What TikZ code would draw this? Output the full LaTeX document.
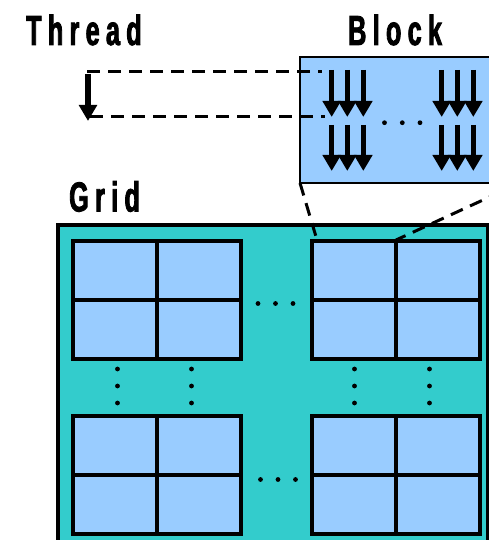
\documentclass[tikz,border=0pt]{standalone}
\usepackage{fontspec}
\newfontfamily\labfont[FakeStretch=0.6,LetterSpace=15,FakeBold=2]{Liberation Sans Bold}
\usetikzlibrary{arrows.meta}
\definecolor{blk}{HTML}{99CCFF}
\definecolor{grd}{HTML}{33CCCC}
\tikzset{
  lab/.style={font=\labfont\fontsize{42}{44}\selectfont, inner sep=0pt, anchor=base west},
  thr/.style={line width=5.2pt, -{Triangle[length=16pt,width=17.5pt]}},
  guide/.style={line width=3pt, dash pattern=on 13pt off 8pt},
  sub/.style={line width=3.2pt, fill=blk},
  dotc/.style={fill=black, draw=none},
}
\begin{document}
\begin{tikzpicture}[x=1pt,y=-1pt]
\useasboundingbox (0,0) rectangle (489,540);
\begin{scope}
\clip (0,0) rectangle (489,540);
% labels
\node[lab] (thread) at (26,45) {Thread};
\node[lab] (block) at (348,45) {Block};
\node[lab] (grid) at (69,211.5) {Grid};
% grid
\draw[line width=3.2pt, fill=grd] (58,225) rectangle (488,560);
\foreach \x/\y/\n in {73/241/a,312/241/b,73/416/c,312/416/d}{
  \draw[sub] (\x,\y) rectangle ++(168,118);
  \draw[line width=3.2pt] (\x+84,\y) -- ++(0,118);
  \draw[line width=3.2pt] (\x,\y+59) -- ++(168,0);
  \coordinate (sb\n) at (\x,\y);
}
% dots in grid
\foreach \x in {258,275.5,293}{\fill (\x,303.5) circle (2.4);}
\foreach \x in {260.5,278,295.5}{\fill (\x,479.5) circle (2.4);}
\foreach \x in {117.5,191.5,354.5,429.5}{
  \foreach \y in {369,386,403}{\fill (\x,\y) circle (2.4);}
}
% block
\draw[line width=2.4pt, fill=blk] (300,57) rectangle (520,183);
\coordinate (blkSW) at (300,183);
\coordinate (blkSE) at (520,183);
\foreach \x in {331.7,347.3,363.3,441.7,457.3,473.3}{
  \draw[thr] (\x,70) -- (\x,117);
  \draw[thr] (\x,125) -- (\x,171);
}
\foreach \x in {384.5,402.3,420}{\fill (\x,122.7) circle (2.4);}
% single thread
\coordinate (tTop) at (88,74);
\coordinate (tTip) at (88,121);
\draw[thr] (tTop) -- (tTip);
\coordinate (g1a) at (87,72);
\coordinate (g1b) at (322,72);
\coordinate (g2a) at (90,117);
\coordinate (g2b) at (325,117);
\draw[guide] (g1a) -- (g1b);
\draw[guide] (g2a) -- (g2b);
% block to grid
\coordinate (sbTop) at (317,240);
\coordinate (sbMid) at (396,240);
\draw[guide] (blkSW) -- (sbTop);
\draw[guide] (blkSE) -- (sbMid);
\end{scope}
\end{tikzpicture}
\end{document}
